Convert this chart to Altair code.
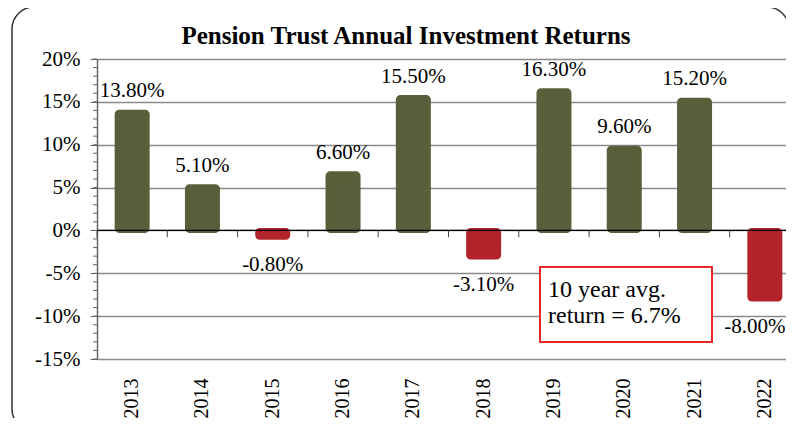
import altair as alt
import pandas as pd

# ---- data ----
years = ["2013", "2014", "2015", "2016", "2017", "2018", "2019", "2020", "2021", "2022"]
returns = [13.8, 5.1, -0.8, 6.6, 15.5, -3.1, 16.3, 9.6, 15.2, -8.0]
major_ticks = [-15, -10, -5, 0, 5, 10, 15, 20]
minor_ticks = list(range(-15, 21))
title_text = "Pension Trust Annual Investment Returns"
note_lines = ["10 year avg.", "return = 6.7%"]

FONT = "Liberation Serif"
GREEN = "#585F3A"
RED = "#B2242A"

W, H = 689, 300
BAND_RANGE = 703  # the reference's plot runs slightly past the right edge of the picture

df = pd.DataFrame({"year": years, "ret": returns})
df["label"] = [f"{v:.2f}%" for v in returns]

x_axis = alt.Axis(title=None, labelAngle=270, labelFont=FONT, labelFontSize=20,
                  labelColor="black", labelPadding=19, ticks=False, domain=False, grid=False)
x_scale = alt.Scale(paddingInner=0, paddingOuter=0, range=[0, BAND_RANGE])
x = alt.X("year:N", sort=years, scale=x_scale, axis=x_axis)
x_edge = alt.X("year:N", sort=years, scale=x_scale, axis=x_axis, bandPosition=0)

y = alt.Y("ret:Q",
          scale=alt.Scale(domain=[-15, 20], nice=False, zero=False),
          axis=alt.Axis(title=None, values=major_ticks, labelExpr="datum.value + '%'",
                        labelFont=FONT, labelFontSize=21, labelColor="black",
                        labelPadding=10, tickSize=7, tickColor="#666666",
                        domainColor="#666666", domainWidth=1.5,
                        grid=True, gridColor="#8a8a8a", gridWidth=1.5))

one = pd.DataFrame({"k": [0]})

frame = alt.Chart(one).mark_rect(
    fill="transparent", stroke="#333333", strokeWidth=1.5, cornerRadius=22
).encode(x=alt.value(-85), x2=alt.value(692), y=alt.value(-52), y2=alt.value(372))

title = alt.Chart(one).mark_text(
    text=title_text, font=FONT, fontSize=25, fontWeight="bold", color="black",
    align="center", baseline="alphabetic"
).encode(x=alt.value(309), y=alt.value(-15))

minor = alt.Chart(pd.DataFrame({"ret": minor_ticks})).mark_rule(
    color="#666666", strokeWidth=1
).encode(y=y, x=alt.value(-4), x2=alt.value(0))

bar_color = alt.condition("datum.ret >= 0", alt.value(GREEN), alt.value(RED))
bars = alt.Chart(df).mark_bar(width=30, cornerRadius=2, strokeWidth=5, strokeJoin="round").encode(
    x=x, y=y, y2=alt.datum(0), color=bar_color, stroke=bar_color,
)

zero = alt.Chart(pd.DataFrame({"ret": [0]})).mark_rule(
    color="black", strokeWidth=1.2
).encode(y=y, x=alt.value(0), x2=alt.value(W))

edge_ticks = alt.Chart(df).mark_rule(color="#444444", strokeWidth=1).encode(
    x=x_edge, y=alt.datum(0), y2=alt.datum(-0.8)
)

pos_labels = alt.Chart(df).transform_filter("datum.ret >= 0").mark_text(
    font=FONT, fontSize=21, color="black", baseline="middle", dy=-21
).encode(x=x, y=y, text="label:N")

last_year = years[-1]
neg_labels = alt.Chart(df).transform_filter(
    f"datum.ret < 0 && datum.year != '{last_year}'"
).mark_text(
    font=FONT, fontSize=21, color="black", baseline="middle", dy=28
).encode(x=x, y=y, text="label:N")

# the last label sits at the picture's right edge: nudge it in so it stays whole
edge_label = alt.Chart(df).transform_filter(
    f"datum.ret < 0 && datum.year == '{last_year}'"
).mark_text(
    font=FONT, fontSize=21, color="black", baseline="middle", dy=28, dx=-10
).encode(x=x, y=y, text="label:N")

note_box = alt.Chart(one).mark_rect(
    fill="white", stroke="#E8282B", strokeWidth=2
).encode(x=alt.value(443), x2=alt.value(615), y=alt.value(208), y2=alt.value(283))

note_text = alt.Chart(one).mark_text(
    text=note_lines, align="left", baseline="alphabetic", font=FONT,
    fontSize=24, lineHeight=26, color="black"
).encode(x=alt.value(451), y=alt.value(238))

chart = alt.layer(
    frame, title, minor, bars, zero, edge_ticks, pos_labels, neg_labels, edge_label,
    note_box, note_text
).properties(
    width=W, height=H,
    padding={"left": 89, "top": 51, "right": 0, "bottom": 59},
    autosize=alt.AutoSizeParams(type="none"),
).configure_view(stroke=None).configure(background="white")

chart.save("out.html", embed_options={"renderer": "svg", "actions": False})
